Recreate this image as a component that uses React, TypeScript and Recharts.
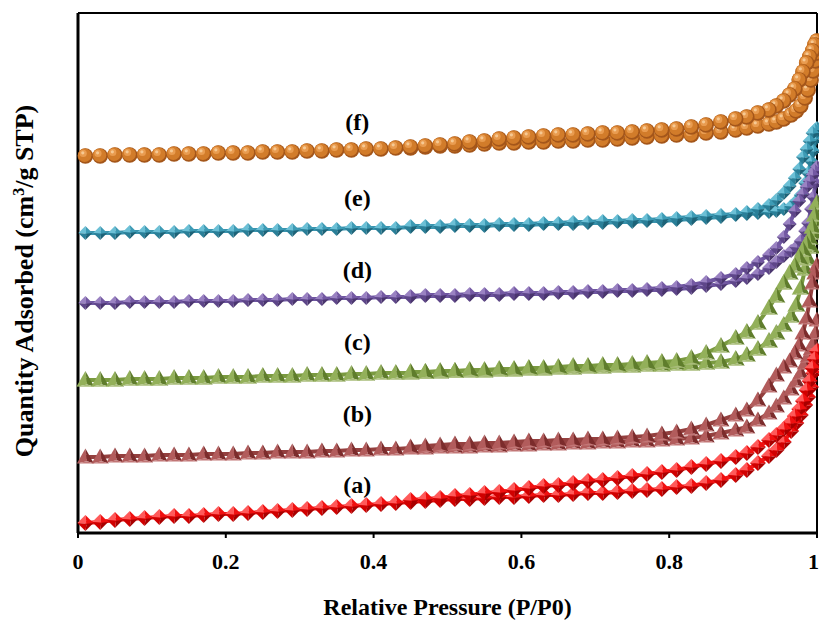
import { ScatterChart, Scatter, XAxis, YAxis, ReferenceLine, ReferenceDot, Label } from 'recharts'

// relative pressure points (adsorption / desorption branches)
const PA = [0.01, 0.03, 0.05, 0.07, 0.09, 0.11, 0.13, 0.15, 0.17, 0.19, 0.21, 0.23, 0.25, 0.27, 0.29, 0.31, 0.33, 0.35, 0.37, 0.39,
  0.41, 0.43, 0.45, 0.47, 0.49, 0.51, 0.53, 0.55, 0.57, 0.59, 0.61, 0.63, 0.65, 0.67, 0.69, 0.71, 0.73, 0.75, 0.77, 0.79,
  0.81, 0.83, 0.85, 0.87, 0.89, 0.905, 0.92, 0.935, 0.945, 0.955, 0.965, 0.972, 0.978, 0.984, 0.988, 0.992, 0.995, 0.998, 1.0]
const PD = [1.0, 0.997, 0.994, 0.99, 0.986, 0.981, 0.976, 0.97, 0.963, 0.955, 0.945, 0.935, 0.92, 0.905,
  0.89, 0.87, 0.85, 0.83, 0.81, 0.79, 0.77, 0.75, 0.73, 0.71, 0.69, 0.67, 0.65, 0.63, 0.61, 0.59, 0.57, 0.55, 0.53, 0.51, 0.49, 0.47, 0.45]

// quantity adsorbed (offset curves, arbitrary units)
const F_ADS = [377, 377, 378, 378, 378, 378, 379, 379, 379, 380, 380, 380, 381, 381, 381, 382, 382, 383, 383, 384,
  384, 385, 385, 386, 387, 387, 388, 389, 390, 390, 391, 391, 392, 392, 393, 393, 394, 395, 396, 397,
  398, 398, 400, 401, 403, 405, 407, 409, 411, 414, 418, 422, 427, 435, 443, 453, 462, 472, 480]
const F_DES = [492, 488, 482, 476, 470, 461, 453, 444, 438, 432, 427, 423, 420, 416,
  414, 411, 408, 406, 404, 403, 402, 401, 400, 400, 399, 398, 398, 397, 396, 395, 394, 392, 391, 389, 388, 387, 386]

const E_ADS = [300, 300, 300, 301, 301, 301, 301, 302, 302, 302, 302, 303, 303, 303, 303, 304, 304, 304, 305, 305,
  305, 305, 306, 306, 306, 307, 307, 307, 308, 308, 308, 309, 309, 309, 310, 310, 311, 311, 312, 312,
  313, 314, 315, 316, 318, 319, 320, 321, 322, 324, 327, 332, 338, 350, 360, 372, 382, 394, 402]
const E_DES = [405, 403, 400, 392, 384, 376, 364, 355, 347, 340, 333, 328, 324, 321,
  319, 318, 317, 316, 315, 314, 313, 313, 312, 312, 311, 311, 310, 310, 309, 309, 309, 308, 308, 308, 307, 307, 307]

const D_ADS = [230, 230, 230, 231, 231, 231, 231, 232, 232, 232, 232, 233, 233, 233, 234, 234, 234, 235, 235, 235,
  236, 236, 236, 237, 237, 237, 238, 238, 238, 239, 239, 239, 240, 240, 241, 241, 242, 242, 243, 243,
  244, 245, 247, 249, 252, 255, 259, 265, 271, 277, 282, 286, 292, 302, 310, 324, 336, 350, 362]
const D_DES = [366, 362, 358, 352, 346, 339, 332, 322, 309, 296, 285, 278, 271, 265,
  259, 255, 251, 248, 246, 245, 244, 243, 243, 242, 242, 241, 241, 240, 240, 240, 239, 239, 239, 238, 238, 238, 237]

const C_ADS = [153, 153, 153, 154, 154, 154, 155, 155, 155, 156, 156, 156, 157, 157, 157, 158, 158, 158, 159, 159,
  160, 160, 160, 161, 161, 162, 162, 162, 163, 163, 164, 164, 165, 165, 166, 166, 167, 167, 168, 168,
  169, 169, 170, 171, 174, 178, 184, 192, 200, 208, 217, 228, 245, 264, 274, 286, 300, 312, 320]
const C_DES = [330, 318, 306, 295, 289, 283, 275, 267, 260, 250, 237, 225, 210, 201,
  195, 187, 180, 175, 172, 171, 170, 169, 168, 168, 167, 167, 166, 165, 165, 164, 164, 163, 163, 162, 162, 161, 161]

const B_ADS = [76, 76, 77, 77, 77, 78, 78, 78, 79, 79, 79, 80, 80, 81, 81, 81, 82, 82, 83, 83,
  84, 84, 85, 85, 86, 86, 86, 87, 87, 88, 88, 89, 89, 90, 90, 91, 91, 92, 92, 93,
  94, 95, 97, 100, 103, 106, 113, 120, 127, 135, 144, 152, 160, 170, 177, 184, 190, 200, 213]
const B_DES = [268, 260, 250, 232, 215, 200, 188, 180, 172, 166, 158, 147, 133, 123,
  118, 113, 108, 104, 101, 99, 97, 96, 95, 94, 94, 93, 93, 92, 92, 91, 90, 90, 89, 89, 88, 87, 86]

const A_ADS = [10, 11, 13, 14, 15, 16, 17, 17, 18, 19, 19, 20, 21, 22, 23, 24, 25, 26, 27, 28,
  29, 30, 31, 32, 33, 34, 34, 35, 36, 36, 37, 38, 38, 39, 40, 40, 41, 42, 43, 44,
  46, 47, 50, 53, 58, 63, 70, 77, 83, 91, 102, 110, 118, 128, 136, 146, 160, 170, 178]
const A_DES = [182, 174, 165, 152, 143, 132, 124, 117, 110, 104, 98, 93, 86, 80,
  76, 72, 69, 66, 63, 61, 59, 57, 55, 53, 52, 50, 48, 47, 45, 43, 41, 40, 38, 37, 35, 34, 33]

const X_TICKS = [0, 0.2, 0.4, 0.6, 0.8, 1]
const CURVE_NAMES = ['(f)', '(e)', '(d)', '(c)', '(b)', '(a)']
const NAME_P = 0.378
const NAME_Q = [412, 336, 264, 192, 120, 49]

const SERIF = "'Liberation Serif', 'Times New Roman', serif"

const pts = (ps: number[], qs: number[]) => ps.map((p, i) => ({ p, q: qs[i] }))

function Ball({ cx, cy }: any) {
  return (
    <g>
      <circle cx={cx} cy={cy} r={7.8} fill="#a4561a" />
      <circle cx={cx - 0.7} cy={cy - 0.8} r={6.8} fill="#d27c2a" />
      <circle cx={cx - 2.2} cy={cy - 2.6} r={3.6} fill="#e99c50" />
      <circle cx={cx - 2.6} cy={cy - 3.2} r={1.6} fill="#f6c993" />
    </g>
  )
}

function Octa({ cx, cy, s, c }: any) {
  const t = `${cx},${cy - s}`
  const r = `${cx + s},${cy}`
  const b = `${cx},${cy + s}`
  const l = `${cx - s},${cy}`
  const m = `${cx + s * 0.15},${cy + s * 0.1}`
  return (
    <g>
      <polygon points={`${t} ${m} ${l}`} fill={c[0]} />
      <polygon points={`${t} ${r} ${m}`} fill={c[1]} />
      <polygon points={`${l} ${m} ${b}`} fill={c[2]} />
      <polygon points={`${m} ${r} ${b}`} fill={c[3]} />
    </g>
  )
}

function Tetra({ cx, cy, s, c }: any) {
  const apex = `${cx},${cy - s}`
  const bl = `${cx - s},${cy + s * 0.75}`
  const br = `${cx + s},${cy + s * 0.75}`
  const f = `${cx + s * 0.2},${cy + s * 0.5}`
  return (
    <g>
      <polygon points={`${apex} ${bl} ${f}`} fill={c[0]} />
      <polygon points={`${apex} ${f} ${br}`} fill={c[1]} />
      <polygon points={`${bl} ${f} ${br}`} fill={c[2]} />
    </g>
  )
}

const TEAL = ['#6cc0d6', '#3d9bb5', '#2a7f98', '#1d6378']
const PURPLE = ['#9a82c2', '#7459a3', '#5e4689', '#4a356e']
const RED = ['#ff5a5a', '#f01010', '#d00000', '#a80000']
const GREEN = ['#93b05a', '#5f7d2c', '#a9bd7a']
const BROWN = ['#b25c5c', '#7c2c2c', '#c27676']

const series = [
  { ads: F_ADS, des: F_DES, line: '#d27c2a', shape: (p: any) => <Ball cx={p.cx} cy={p.cy} /> },
  { ads: E_ADS, des: E_DES, line: '#3a94ae', shape: (p: any) => <Octa cx={p.cx} cy={p.cy} s={7} c={TEAL} /> },
  { ads: D_ADS, des: D_DES, line: '#6e56a0', shape: (p: any) => <Octa cx={p.cx} cy={p.cy} s={7} c={PURPLE} /> },
  { ads: C_ADS, des: C_DES, line: '#7a9a40', shape: (p: any) => <Tetra cx={p.cx} cy={p.cy} s={9} c={GREEN} /> },
  { ads: B_ADS, des: B_DES, line: '#94403f', shape: (p: any) => <Tetra cx={p.cx} cy={p.cy} s={8.5} c={BROWN} /> },
  { ads: A_ADS, des: A_DES, line: '#f01818', shape: (p: any) => <Octa cx={p.cx} cy={p.cy} s={8} c={RED} /> },
]

const XTitle = ({ viewBox }: any) => (
  <text x={viewBox.x + viewBox.width / 2} y={viewBox.y + 82} textAnchor="middle" fontFamily={SERIF} fontWeight="bold" fontSize={24} fill="#000">
    Relative Pressure (P/P0)
  </text>
)

const YTitle = () => {
  const x = 24
  const y = 281
  return (
    <text x={x} y={y} dy="0.35em" transform={`rotate(-90, ${x}, ${y})`} textAnchor="middle" fontFamily={SERIF} fontWeight="bold" fontSize={26} fill="#000">
      Quantity Adsorbed (cm<tspan dy="-9" fontSize={16}>3</tspan><tspan dy="9">/g STP)</tspan>
    </text>
  )
}

export default function App() {
  return (
    <div style={{ position: 'absolute', left: 0, top: 0, width: 819, height: 622, background: '#fff' }}>
      <ScatterChart width={819} height={622} margin={{ top: 13, right: 2, bottom: 59, left: 77 }}>
        <XAxis type="number" dataKey="p" domain={[0, 1]} ticks={X_TICKS} height={30} tickSize={5} tickMargin={15}
          axisLine={{ stroke: '#000', strokeWidth: 3 }} tickLine={{ stroke: '#000', strokeWidth: 2 }}
          tick={{ fill: '#000', fontSize: 22, fontWeight: 'bold', fontFamily: SERIF }}>
          <Label content={XTitle} />
        </XAxis>
        <YAxis type="number" dataKey="q" domain={[0, 520]} width={1} tick={false} tickLine={false}
          axisLine={{ stroke: '#000', strokeWidth: 3 }}>
          <Label content={YTitle} />
        </YAxis>
        <ReferenceLine y={520} stroke="#000" strokeWidth={2} />
        <ReferenceLine x={1} stroke="#000" strokeWidth={2} />
        {series.map((s, i) => [
          <Scatter key={`a${i}`} data={pts(PA, s.ads)} line={{ stroke: s.line, strokeWidth: 4 }} shape={s.shape} isAnimationActive={false} />,
          <Scatter key={`d${i}`} data={pts(PD, s.des)} line={{ stroke: s.line, strokeWidth: 4 }} shape={s.shape} isAnimationActive={false} />,
        ])}
        {CURVE_NAMES.map((n, i) => (
          <ReferenceDot key={n} x={NAME_P} y={NAME_Q[i]} r={0} fill="none" stroke="none"
            label={{ value: n, position: 'center', fill: '#000', fontSize: 24, fontWeight: 'bold', fontFamily: SERIF }} />
        ))}
      </ScatterChart>
    </div>
  )
}
